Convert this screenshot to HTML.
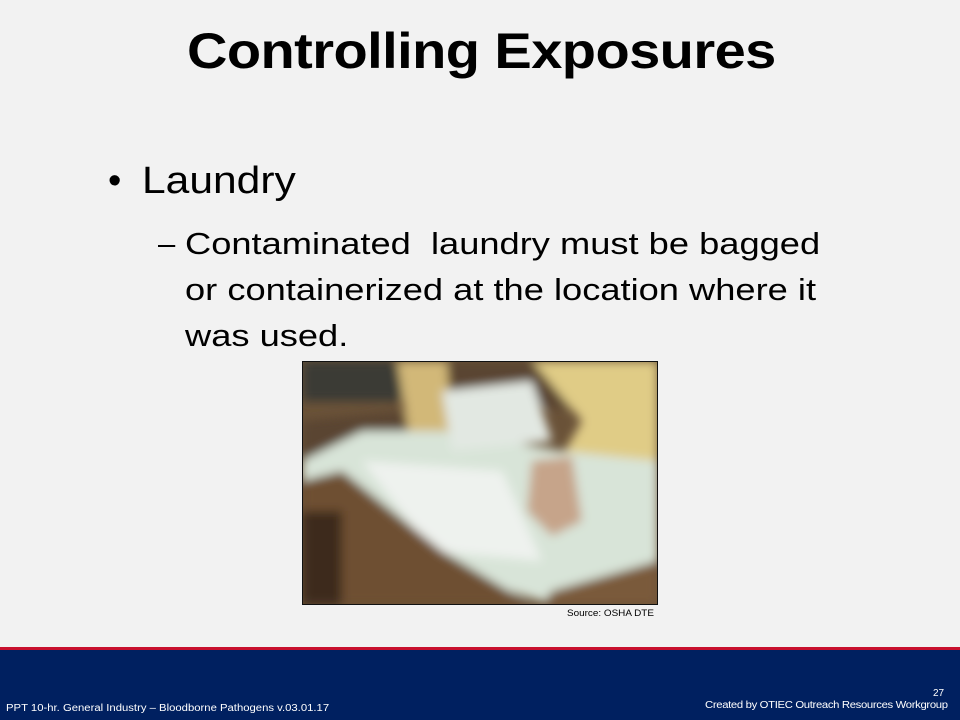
<!DOCTYPE html>
<html><head><meta charset="utf-8"><style>
body{margin:0;width:960px;height:720px;background:#f2f2f2;position:relative;overflow:hidden;font-family:"Liberation Sans",sans-serif;}
.a{position:absolute;white-space:nowrap;color:#000;transform-origin:0 0;}
</style></head><body>
<div class="a" style="left:187px;top:22px;font-size:50px;font-weight:bold;letter-spacing:-0.5px;transform:scaleX(1.12);">Controlling Exposures</div>
<div class="a" style="left:108px;top:160px;font-size:38px;"><span style="display:inline-block;width:34px;">•</span><span style="display:inline-block;transform:scaleX(1.12);transform-origin:0 0;">Laundry</span></div>
<div class="a" style="left:158px;top:221px;font-size:31px;line-height:46px;"><span style="position:absolute;left:0;top:0;">–</span><div style="margin-left:27px;transform:scaleX(1.17);transform-origin:0 0;">Contaminated&nbsp; laundry must be bagged<br>or containerized at the location where it<br>was used.</div></div>
<svg style="position:absolute;left:302px;top:361px;" width="356" height="244" viewBox="0 0 356 244">
<defs><filter id="b"><feGaussianBlur stdDeviation="5"/></filter></defs>
<rect width="356" height="244" fill="#6a5238"/>
<g filter="url(#b)">
<rect x="0" y="0" width="120" height="40" fill="#3a3a36"/>
<polygon points="0,100 110,70 120,0 356,0 356,60 200,40 0,60" fill="#5a4530"/>
<polygon points="95,0 145,0 150,75 110,95" fill="#d2b878"/>
<polygon points="230,0 356,0 356,110 290,110 260,95 280,60" fill="#e0cc86"/>
<polygon points="0,100 60,70 140,70 200,80 260,90 356,100 356,220 240,240 140,210 40,140 0,150" fill="#d8e4d8"/>
<polygon points="140,30 230,20 250,80 150,90" fill="#e2e8e2"/>
<polygon points="60,100 200,110 240,200 130,190" fill="#eef2ee"/>
<polygon points="230,100 270,95 280,160 250,175 225,150" fill="#c6a48a"/>
<polygon points="0,120 40,110 140,190 230,244 0,244" fill="#6e5032"/>
<polygon points="250,230 356,200 356,244 240,244" fill="#7a5a3a"/>
<rect x="0" y="150" width="40" height="94" fill="#3c2c1e"/>
</g>
<rect x="0.5" y="0.5" width="355" height="243" fill="none" stroke="#111"/>
</svg>
<div class="a" style="left:567px;top:608px;font-size:9px;transform:scaleX(1.1);">Source: OSHA DTE</div>
<div style="position:absolute;left:0;top:647px;width:960px;height:3px;background:#c8102e;"></div>
<div style="position:absolute;left:0;top:650px;width:960px;height:70px;background:#002060;"></div>
<div class="a" style="left:6px;top:703px;font-size:10px;color:#fff;transform:scaleX(1.13);">PPT 10-hr. General Industry – Bloodborne Pathogens v.03.01.17</div>
<div class="a" style="left:933px;top:688px;font-size:10px;color:#fff;">27</div>
<div class="a" style="left:705px;top:700px;font-size:10px;color:#fff;letter-spacing:-0.3px;transform:scaleX(1.13);">Created by OTIEC Outreach Resources Workgroup</div>
</body></html>
